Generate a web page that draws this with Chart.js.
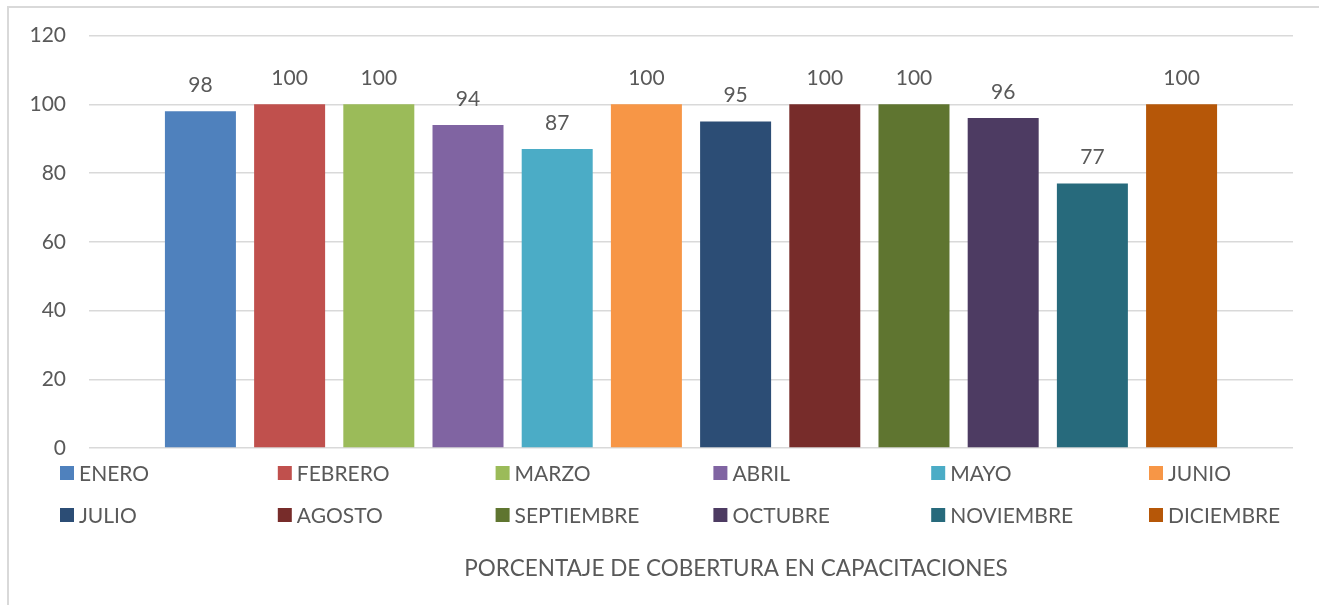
<!DOCTYPE html>
<html>
<head>
<meta charset="utf-8">
<script src="https://cdn.jsdelivr.net/npm/chart.js@4/dist/chart.umd.min.js"></script>
<style>
html, body { margin: 0; padding: 0; overflow: hidden; background: #fff; }
#frame { position: absolute; left: 7px; top: 6px; width: 2000px; height: 2000px; border: 2px solid #d9d9d9; }
#wrap { position: absolute; left: 0; top: 0; width: 1319px; height: 605px; }
</style>
</head>
<body>
<div id="frame"></div>
<div id="wrap"><canvas id="chart"></canvas></div>
<script>
const months = ['ENERO', 'FEBRERO', 'MARZO', 'ABRIL', 'MAYO', 'JUNIO',
    'JULIO', 'AGOSTO', 'SEPTIEMBRE', 'OCTUBRE', 'NOVIEMBRE', 'DICIEMBRE'];
const coverage = [98, 100, 100, 94, 87, 100, 95, 100, 100, 96, 77, 100];
const monthColors = ['#4F81BD', '#C0504D', '#9BBB59', '#8064A2', '#4BACC6', '#F79646',
    '#2C4D75', '#772C2A', '#5F7530', '#4D3B62', '#276A7C', '#B65708'];
const axisTitle = 'PORCENTAJE DE COBERTURA EN CAPACITACIONES';

const textColor = '#595959';
const fontFamily = 'Lato, "Open Sans", sans-serif';
const fontSize = 21;

// Value labels above each bar
const valueLabels = {
    id: 'valueLabels',
    afterDatasetsDraw(chart) {
        const ctx = chart.ctx;
        ctx.save();
        ctx.font = fontSize + 'px ' + fontFamily;
        ctx.fillStyle = textColor;
        ctx.textAlign = 'center';
        ctx.textBaseline = 'middle';
        chart.data.datasets.forEach((ds, i) => {
            const bar = chart.getDatasetMeta(i).data[0];
            ctx.fillText(ds.data[0], bar.x, bar.y - 26);
        });
        ctx.restore();
    }
};

// Legend in a 6 column grid under the plot, then the axis title
const bottomLegend = {
    id: 'bottomLegend',
    afterDraw(chart) {
        const ctx = chart.ctx;
        const cols = 6, x0 = 60, colW = 217.8, rowY = [473, 515], box = 14;
        ctx.save();
        ctx.font = fontSize + 'px ' + fontFamily;
        ctx.textBaseline = 'middle';
        ctx.textAlign = 'left';
        chart.data.datasets.forEach((ds, i) => {
            const x = x0 + (i % cols) * colW;
            const y = rowY[Math.floor(i / cols)];
            ctx.fillStyle = ds.backgroundColor;
            ctx.fillRect(x, y - box / 2, box, box);
            ctx.fillStyle = textColor;
            ctx.fillText(ds.label, x + box + 5, y + 1);
        });

        // axis title
        ctx.font = '22.5px ' + fontFamily;
        ctx.textAlign = 'center';
        ctx.fillText(axisTitle, 736, 569);
        ctx.restore();
    }
};

new Chart(document.getElementById('chart'), {
    type: 'bar',
    data: {
        labels: [''],
        datasets: months.map((m, i) => ({
            label: m,
            data: [coverage[i]],
            backgroundColor: monthColors[i],
            categoryPercentage: 0.889,
            barPercentage: 0.796
        }))
    },
    options: {
        responsive: true,
        maintainAspectRatio: false,
        animation: false,
        layout: { padding: { left: 0, right: 26, top: 34, bottom: 0 } },
        plugins: {
            legend: { display: false },
            tooltip: { enabled: false }
        },
        scales: {
            x: {
                grid: { display: false },
                border: { display: false },
                ticks: { display: false },
                afterFit(scale) { scale.height = 157; }
            },
            y: {
                min: 0,
                max: 120,
                grid: { color: '#d9d9d9', lineWidth: 1.5, drawTicks: false },
                border: { display: false },
                ticks: {
                    stepSize: 20,
                    padding: 23,
                    color: textColor,
                    font: { family: fontFamily, size: fontSize }
                },
                afterFit(scale) { scale.width = 89; }
            }
        }
    },
    plugins: [valueLabels, bottomLegend]
});
</script>
</body>
</html>
